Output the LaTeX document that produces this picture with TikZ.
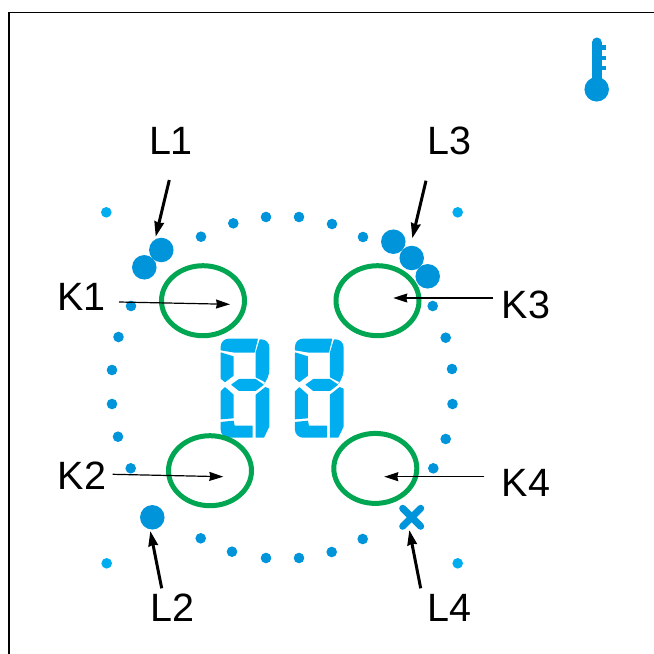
\documentclass[tikz,border=0pt]{standalone}
\usepackage{fontspec}
\setmainfont{Liberation Sans}
\usetikzlibrary{arrows.meta,shapes.geometric}
\definecolor{dotblue}{HTML}{0095DA}
\definecolor{lightblue}{HTML}{00AEEF}
\definecolor{ringgreen}{HTML}{00A651}
\tikzset{
  px/.style={x=1pt,y=-1pt},
  lbl/.style={font=\fontsize{39.5}{40}\selectfont,inner sep=0pt,text=black,anchor=center},
  dot/.style={circle,fill=dotblue,inner sep=0pt,minimum size=10.6pt},
  lightdot/.style={circle,fill=lightblue,inner sep=0pt,minimum size=10.6pt},
  bigdot/.style={circle,fill=dotblue,inner sep=0pt,minimum size=24.5pt},
  ring/.style={ellipse,draw=ringgreen,line width=5pt,inner sep=0pt,minimum width=83pt,minimum height=70pt},
  thinarrow/.style={-{Stealth[length=14pt,width=9pt,inset=1pt]},line width=1.2pt,black},
  thickarrow/.style={-{Stealth[length=15pt,width=9.5pt,inset=1pt]},line width=3pt,black},
  seg/.style={fill=lightblue,rounded corners=0.4pt},
}
\newcommand{\digitshape}{%
  \fill[seg] (62,91) [rounded corners=8pt] -- (62,56) [rounded corners=0.4pt] -- (174,56) -- (164,98) -- (104,98) -- cycle;
  \fill[seg] (179,58) [rounded corners=8pt] -- (208,58) [rounded corners=8pt] -- (208,174) [rounded corners=0.4pt] -- (196,187) -- (167,172) -- (167,97) -- cycle;
  \fill[seg] (62,97) -- (101,109) -- (101,167) -- (75,187) -- (62,176) -- cycle;
  \fill[seg] (93,194) -- (117,177) -- (167,177) -- (192,194) -- (167,213) -- (117,213) -- cycle;
  \fill[seg] (75,201) -- (101,224) -- (101,295) -- (62,298) -- (62,214) -- cycle;
  \fill[seg] (196,201) -- (208,206) -- (208,320) -- (192,353) -- (167,353) -- (167,224) -- cycle;
  \fill[seg] (62,306) -- (101,302) -- (104,317) -- (158,317) -- (158,353) [rounded corners=8pt] -- (62,353) [rounded corners=0.4pt] -- cycle;
}
\begin{document}
\begin{tikzpicture}[px]
\useasboundingbox (0,0) rectangle (654,654);
\fill[white] (0,0) rectangle (654,654);
% frame
\draw[line width=1.5pt,black] (9,654) -- (9,12.5) -- (654,12.5);
% thermometer
\fill[dotblue,rounded corners=4.8pt] (592,85) -- (592,37.5) -- (601.8,37.5) -- (601.8,85) -- cycle;
\fill[dotblue] (600,45.3) rectangle (606,50);
\fill[dotblue] (600,55.7) rectangle (606,60);
\fill[dotblue] (600,65.7) rectangle (606,70);
\node[bigdot] (therm) at (596.7,89.3) {};
% small dots
\foreach \n/\x/\y in {a/201/236.7,b/233.3/223.3,c/266/217,d/299/217,e/332/224,f/363/237,
  g/131/306,h/118.5/337,i/112/370,j/112/404,k/118/436.7,l/130.7/468.3,
  m/432.7/306,n/445.7/337.7,o/452/369,p/452.5/404,q/445.7/439,r/433.3/468.3,
  s/200.7/538.3,t/232/551.7,u/266/558,v/299/558,w/331.7/552,y/362.7/539}
  \node[dot] (d\n) at (\x,\y) {};
\foreach \n/\x/\y in {a/106.3/212.3,b/457.7/212.3,c/106.7/563.3,d/457.7/563.3}
  \node[lightdot] (ld\n) at (\x,\y) {};
% big dots
\node[bigdot] (B1) at (161.3,250) {};
\node[bigdot] (B2) at (144.3,267.3) {};
\node[bigdot] (B3) at (393.3,241.7) {};
\node[bigdot] (B4) at (411.7,258) {};
\node[bigdot] (B5) at (427.7,276.3) {};
\node[bigdot] (B6) at (152.3,517.3) {};
% cross
\draw[dotblue,line width=7pt,line cap=round] (402.7,508.3) -- (420.7,526.3);
\draw[dotblue,line width=7pt,line cap=round] (402.7,526.3) -- (420.7,508.3);
\coordinate (X4) at (409.3,530);
% digits
\begin{scope}[shift={(200,320)},x=0.3333pt,y=-0.3333pt]
\digitshape
\end{scope}
\begin{scope}[shift={(274.3,320)},x=0.3333pt,y=-0.3333pt]
\digitshape
\end{scope}
% rings
\node[ring] (R1) at (203,300.7) {};
\node[ring] (R3) at (377.5,300.7) {};
\node[ring] (R2) at (210,470.7) {};
\node[ring] (R4) at (375.3,468.4) {};
% labels
\node[lbl] (L1) at (171,141) {L1};
\node[lbl] (L3) at (449.5,141) {L3};
\node[lbl] (L2) at (172.5,608) {L2};
\node[lbl] (L4) at (449.5,608) {L4};
\node[lbl] (K1) at (81.5,297) {K1};
\node[lbl] (K3) at (526,305) {K3};
\node[lbl] (K2) at (82,476) {K2};
\node[lbl] (K4) at (526,483) {K4};
% arrow ends
\coordinate (K1s) at (119,302);  \coordinate (K1e) at (230,304.3);
\coordinate (K3s) at (492.7,298); \coordinate (K3e) at (393.3,298);
\coordinate (K2s) at (112.7,474.3); \coordinate (K2e) at (223.3,476.7);
\coordinate (K4s) at (484.3,476.7); \coordinate (K4e) at (384.3,476.7);
\coordinate (L1s) at (169.3,180); \coordinate (L1e) at (155.7,236.7);
\coordinate (L3s) at (426,180.7); \coordinate (L3e) at (412.3,238.3);
\coordinate (L2s) at (161.7,588.3); \coordinate (L2e) at (150.3,531);
\coordinate (L4s) at (420.7,588.3);
\draw[thinarrow] (K1s) -- (K1e);
\draw[thinarrow] (K3s) -- (K3e);
\draw[thinarrow] (K2s) -- (K2e);
\draw[thinarrow] (K4s) -- (K4e);
\draw[thickarrow] (L1s) -- (L1e);
\draw[thickarrow] (L3s) -- (L3e);
\draw[thickarrow] (L2s) -- (L2e);
\draw[thickarrow] (L4s) -- (X4);
\end{tikzpicture}
\end{document}
